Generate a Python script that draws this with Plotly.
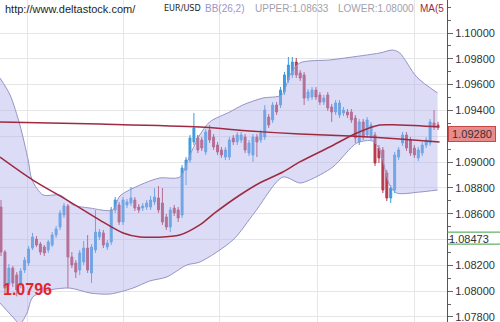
import plotly.graph_objects as go

# ---- EUR/USD candles, oldest to newest ----
opens = [
    1.08652, 1.08303, 1.08048, 1.08179, 1.08125, 1.08048, 1.08164, 1.08218, 1.08334, 1.08404,
    1.08365, 1.08342, 1.08319, 1.08358, 1.08435, 1.08497, 1.08590, 1.08660, 1.08265, 1.08218,
    1.08164, 1.08226, 1.08334, 1.08141, 1.08319, 1.08420, 1.08451, 1.08342, 1.08381, 1.08629,
    1.08668, 1.08536, 1.08668, 1.08683, 1.08706, 1.08652, 1.08644, 1.08652, 1.08652, 1.08691,
    1.08722, 1.08683, 1.08575, 1.08497, 1.08644, 1.08629, 1.08590, 1.08939, 1.09016, 1.09156,
    1.09187, 1.09171, 1.09078, 1.09249, 1.09194, 1.09132, 1.09094, 1.09039, 1.09039, 1.09187,
    1.09156, 1.09171, 1.09194, 1.09070, 1.09055, 1.09194, 1.09171, 1.09194, 1.09349, 1.09326,
    1.09442, 1.09442, 1.09543, 1.09636, 1.09675, 1.09775, 1.09690, 1.09675, 1.09496, 1.09504,
    1.09558, 1.09520, 1.09465, 1.09520, 1.09427, 1.09388, 1.09365, 1.09380, 1.09388, 1.09388,
    1.09341, 1.09156, 1.09311, 1.09210, 1.09194, 1.09210, 1.09109, 1.09094, 1.08915, 1.08722,
    1.08784, 1.09039, 1.09148, 1.09210, 1.09171, 1.09109, 1.09032, 1.09070, 1.09132, 1.09148,
    1.09303, 1.09287,
]
highs = [
    1.08706, 1.08319, 1.08210, 1.08195, 1.08148, 1.08179, 1.08265, 1.08350, 1.08451, 1.08427,
    1.08381, 1.08358, 1.08396, 1.08458, 1.08505, 1.08629, 1.08683, 1.08675, 1.08303, 1.08241,
    1.08319, 1.08389, 1.08435, 1.08365, 1.08629, 1.08482, 1.08474, 1.08396, 1.08652, 1.08729,
    1.08691, 1.08729, 1.08714, 1.08807, 1.08729, 1.08675, 1.08683, 1.08706, 1.08737, 1.08799,
    1.08815, 1.08799, 1.08598, 1.08652, 1.08668, 1.08652, 1.08977, 1.09039, 1.09210, 1.09380,
    1.09210, 1.09194, 1.09256, 1.09287, 1.09217, 1.09156, 1.09117, 1.09117, 1.09194, 1.09210,
    1.09233, 1.09233, 1.09217, 1.09171, 1.09217, 1.09217, 1.09249, 1.09442, 1.09372, 1.09465,
    1.09465, 1.09582, 1.09698, 1.09814, 1.09814, 1.09806, 1.09713, 1.09698, 1.09566, 1.09582,
    1.09582, 1.09543, 1.09520, 1.09543, 1.09450, 1.09481, 1.09481, 1.09427, 1.09411, 1.09411,
    1.09365, 1.09334, 1.09334, 1.09349, 1.09311, 1.09233, 1.09132, 1.09117, 1.08939, 1.08822,
    1.09078, 1.09117, 1.09233, 1.09233, 1.09194, 1.09132, 1.09117, 1.09156, 1.09194, 1.09334,
    1.09403, 1.09311,
]
lows = [
    1.08272, 1.07986, 1.08009, 1.08032, 1.07960, 1.08024, 1.08141, 1.08195, 1.08319, 1.08342,
    1.08280, 1.08272, 1.08296, 1.08342, 1.08412, 1.08474, 1.08567, 1.08024, 1.08179, 1.08102,
    1.08125, 1.08203, 1.08141, 1.08063, 1.08296, 1.08396, 1.08334, 1.08319, 1.08358, 1.08606,
    1.08513, 1.08513, 1.08644, 1.08660, 1.08621, 1.08606, 1.08621, 1.08629, 1.08629, 1.08668,
    1.08606, 1.08513, 1.08474, 1.08458, 1.08582, 1.08536, 1.08567, 1.08822, 1.08993, 1.09132,
    1.09070, 1.09086, 1.09055, 1.09148, 1.09094, 1.09055, 1.09032, 1.09016, 1.09016, 1.09132,
    1.09132, 1.09148, 1.09070, 1.09047, 1.09001, 1.09039, 1.09148, 1.09171, 1.09264, 1.09303,
    1.09365, 1.09419, 1.09520, 1.09613, 1.09651, 1.09651, 1.09628, 1.09442, 1.09473, 1.09481,
    1.09481, 1.09442, 1.09442, 1.09396, 1.09311, 1.09365, 1.09341, 1.09357, 1.09341, 1.09303,
    1.09148, 1.09132, 1.09171, 1.09187, 1.09171, 1.08970, 1.08993, 1.08760, 1.08698, 1.08683,
    1.08760, 1.09016, 1.09125, 1.09086, 1.09047, 1.09032, 1.09008, 1.09047, 1.09109, 1.09125,
    1.09249, 1.09249,
]
closes = [
    1.08303, 1.08024, 1.08179, 1.08063, 1.08009, 1.08156, 1.08241, 1.08327, 1.08420, 1.08358,
    1.08303, 1.08296, 1.08381, 1.08435, 1.08482, 1.08606, 1.08660, 1.08265, 1.08203, 1.08148,
    1.08296, 1.08334, 1.08164, 1.08342, 1.08458, 1.08458, 1.08358, 1.08373, 1.08629, 1.08706,
    1.08536, 1.08706, 1.08691, 1.08722, 1.08644, 1.08629, 1.08660, 1.08683, 1.08706, 1.08729,
    1.08629, 1.08536, 1.08497, 1.08629, 1.08606, 1.08567, 1.08954, 1.09016, 1.09187, 1.09264,
    1.09094, 1.09109, 1.09233, 1.09171, 1.09117, 1.09078, 1.09055, 1.09094, 1.09171, 1.09156,
    1.09210, 1.09210, 1.09094, 1.09148, 1.09194, 1.09156, 1.09225, 1.09403, 1.09287, 1.09442,
    1.09388, 1.09558, 1.09675, 1.09752, 1.09775, 1.09675, 1.09651, 1.09496, 1.09543, 1.09558,
    1.09504, 1.09465, 1.09496, 1.09419, 1.09388, 1.09458, 1.09458, 1.09403, 1.09365, 1.09326,
    1.09187, 1.09311, 1.09194, 1.09326, 1.09287, 1.08993, 1.09032, 1.08784, 1.08722, 1.08799,
    1.09055, 1.09094, 1.09210, 1.09109, 1.09070, 1.09055, 1.09094, 1.09132, 1.09171, 1.09311,
    1.09272, 1.09280,
]
bars = list(range(len(opens)))

# ---- Bollinger band BB(26,2) envelope, sampled along the bar index ----
upper_x = [-0.25, 2.3, 4.8, 6.9, 7.9, 10.7, 15.0, 18.3, 22.6, 28.4, 30.2, 36.5, 40.4, 45.4,
           48.0, 50.5, 53.0, 58.1, 61.4, 66.5, 71.3, 73.4, 75.9, 83.5, 87.3, 96.2, 99.5,
           101.3, 105.6, 110.9]
upper = [1.09651, 1.09520, 1.09287, 1.09016, 1.08861, 1.08745, 1.08745, 1.08668, 1.08644,
         1.08629, 1.08737, 1.08838, 1.08877, 1.08884, 1.09055, 1.09210, 1.09311, 1.09388,
         1.09442, 1.09496, 1.09520, 1.09675, 1.09768, 1.09791, 1.09806, 1.09845, 1.09868,
         1.09845, 1.09659, 1.09535]
lower_x = [-0.25, 3.0, 4.8, 6.6, 8.1, 12.4, 17.5, 22.6, 27.7, 33.5, 37.8, 42.1, 47.2, 50.5,
           58.9, 64.5, 71.6, 75.9, 78.4, 84.3, 90.4, 94.4, 96.2, 98.7, 100.5, 106.4, 110.9]
lower = [1.07908, 1.07800, 1.07746, 1.07831, 1.07955, 1.08009, 1.08024, 1.07986, 1.07978,
         1.08024, 1.08079, 1.08110, 1.08203, 1.08226, 1.08396, 1.08613, 1.08884, 1.08838,
         1.08861, 1.08962, 1.09148, 1.09163, 1.09094, 1.08822, 1.08760, 1.08768, 1.08784]

# ---- moving averages ----
ma_slow_x = [-0.25, 25.1, 50.5, 63.2, 75.9, 88.6, 101.3, 111.4]
ma_slow = [1.09311, 1.09295, 1.09272, 1.09241, 1.09217, 1.09202, 1.09179, 1.09156]
ma_fast_x = [-0.25, 8.1, 16.8, 25.1, 31.0, 35.3, 45.4, 50.5, 54.3, 60.7, 65.7, 71.6, 75.9,
             83.5, 90.4, 96.2, 101.3, 111.4]
ma_fast = [1.09039, 1.08861, 1.08706, 1.08551, 1.08451, 1.08420, 1.08435, 1.08513, 1.08606,
           1.08745, 1.08838, 1.08923, 1.09001, 1.09117, 1.09225, 1.09287, 1.09287, 1.09272]

# ---- axis ----
price_ticks = [1.078, 1.080, 1.082, 1.084, 1.086, 1.088, 1.090, 1.092, 1.094, 1.096, 1.098, 1.100]
session_breaks = [6.85, 31.0, 55.6, 80.5, 105.1]
last_price = 1.09280
marker_price = 1.08473
low_text = "1.0796"

# (text, colour, left edge in px, font size, font family)
SANS = "Liberation Sans, Arial, sans-serif"
NARROW = "Liberation Sans Narrow, DejaVu Sans Condensed, Arial Narrow, sans-serif"
header = [
    ("http://www.deltastock.com/", "#1e1e1e", 3, 11, SANS),
    ("EUR/USD", "#1e1e1e", 162, 9, NARROW),
    ("BB(26,2)", "#9c96c9", 203, 10, SANS),
    ("UPPER:1.08633", "#9fa0ae", 253, 10, SANS),
    ("LOWER:1.08000", "#9fa0ae", 336, 10, SANS),
    ("MA(5", "#9b2c3f", 418, 10, SANS),
]

Y_MIN, Y_MAX = 1.077612, 1.102556
X_MIN, X_MAX = -0.254, 113.29
W, H, R = 500, 322, 53
PLOT_W = W - R

BLUE = "#3d9be0"
RED = "#b8394f"
BAND_LINE = "#9494c6"
MA_COL = "#9e2a40"

# labels hidden behind the price tags on the axis
hidden_labels = {1.092, 1.084}
tick_text = ["" if t in hidden_labels else f"{t:.5f}" for t in price_ticks]

fig = go.Figure()

# band envelope: lower edge, then upper edge filled down to it
fig.add_trace(go.Scatter(x=lower_x, y=lower, mode="lines",
                         line=dict(color=BAND_LINE, width=1, shape="spline", smoothing=0.8),
                         hoverinfo="skip", showlegend=False))
fig.add_trace(go.Scatter(x=upper_x, y=upper, mode="lines", fill="tonexty",
                         fillcolor="rgba(178,178,236,0.45)",
                         line=dict(color=BAND_LINE, width=1, shape="spline", smoothing=0.8),
                         hoverinfo="skip", showlegend=False))

fig.add_trace(go.Candlestick(
    x=bars, open=opens, high=highs, low=lows, close=closes,
    increasing=dict(line=dict(color=BLUE, width=1), fillcolor=BLUE),
    decreasing=dict(line=dict(color=RED, width=1), fillcolor=RED),
    whiskerwidth=0, hoverinfo="skip", showlegend=False,
))

for xs, ys in ((ma_slow_x, ma_slow), (ma_fast_x, ma_fast)):
    fig.add_trace(go.Scatter(x=xs, y=ys, mode="lines",
                             line=dict(color=MA_COL, width=1.5, shape="spline", smoothing=0.8),
                             hoverinfo="skip", showlegend=False))

annotations = []
for text, color, px, size, family in header:
    annotations.append(dict(
        text=text, xref="paper", yref="paper", x=px / PLOT_W, y=1.0,
        xanchor="left", yanchor="top", showarrow=False, borderpad=1, yshift=-1,
        font=dict(family=family, size=size, color=color),
    ))

# current price tag on the axis
annotations.append(dict(
    text=f"{last_price:.5f}", xref="paper", yref="y", x=1.0, y=last_price,
    xanchor="left", yanchor="top", xshift=1, showarrow=False,
    bgcolor="#e98b8b", bordercolor="#c54848", borderwidth=1, borderpad=1, width=44,
    font=dict(family=SANS, size=11, color="#333333"),
))
# reference level tag
annotations.append(dict(
    text=f"{marker_price:.5f}", xref="paper", yref="y", x=1.0, y=marker_price,
    xanchor="left", yanchor="top", xshift=0, yshift=-1, showarrow=False,
    font=dict(family=SANS, size=11, color="#333333"),
))
# session low
annotations.append(dict(
    text=f"<b>{low_text}</b>", xref="paper", yref="y", x=0.0, y=min(lows),
    xanchor="left", yanchor="bottom", xshift=1, yshift=-4, showarrow=False,
    font=dict(family=SANS, size=16, color="#e3262b"),
))


def paper_y(price, px_offset=0):
    return (price - Y_MIN) / (Y_MAX - Y_MIN) + px_offset / H


shapes = []
for off in (-2, -14):
    yy = paper_y(marker_price, off)
    shapes.append(dict(type="line", xref="paper", yref="paper", x0=1.0, x1=W / PLOT_W,
                       y0=yy, y1=yy, line=dict(color="#3e9e44", width=1), layer="above"))

fig.update_layout(
    width=W, height=H, autosize=False,
    margin=dict(l=0, r=R, t=0, b=0, pad=0),
    paper_bgcolor="white", plot_bgcolor="white",
    annotations=annotations, shapes=shapes,
    xaxis=dict(range=[X_MIN, X_MAX], rangeslider=dict(visible=False),
               tickmode="array", tickvals=session_breaks, showticklabels=False,
               ticks="", showgrid=True, gridcolor="#e6e6e6", gridwidth=1,
               zeroline=False, showline=False, fixedrange=True),
    yaxis=dict(range=[Y_MIN, Y_MAX], side="right", tickmode="array",
               tickvals=price_ticks, ticktext=tick_text, ticklabeloverflow="allow",
               ticks="outside", ticklen=5, tickcolor="#666666", tickwidth=1,
               minor=dict(tickmode="linear", tick0=1.077, dtick=0.001, ticks="outside",
                          ticklen=3, tickcolor="#666666", showgrid=False),
               showline=True, linecolor="#555555", linewidth=1,
               showgrid=True, gridcolor="#e6e6e6", gridwidth=1, zeroline=False,
               tickfont=dict(family=SANS, size=11, color="#333333"),
               fixedrange=True),
)

fig.write_html("out.html")
